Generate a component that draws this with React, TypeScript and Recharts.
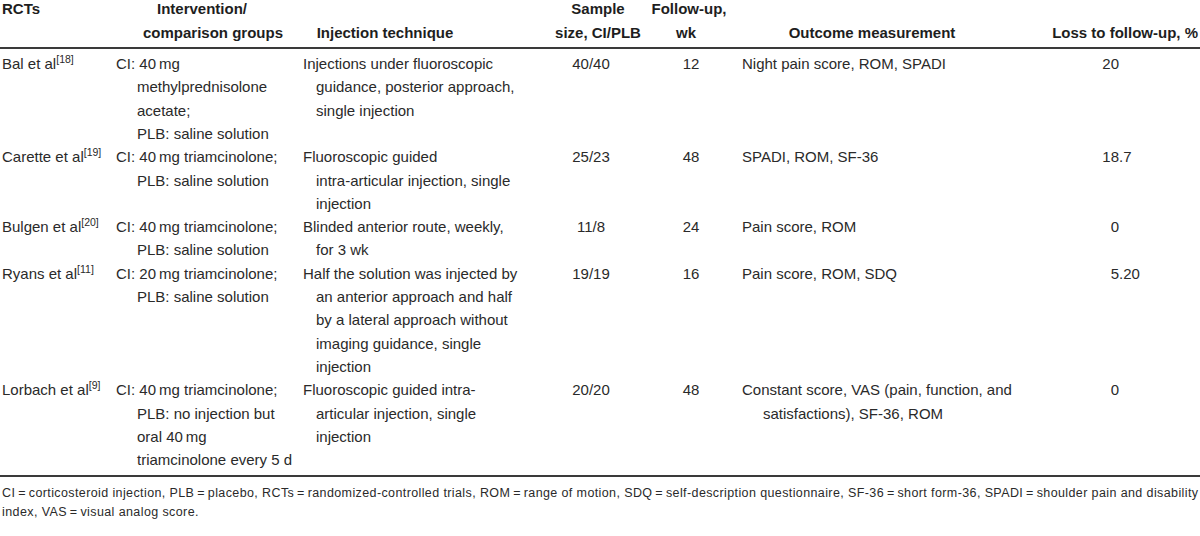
import React from 'react';
import { Surface, Layer, Text } from 'recharts';

const studies = ['Bal et al', 'Carette et al', 'Bulgen et al', 'Ryans et al', 'Lorbach et al'];
const refs = ['18', '19', '20', '11', '9'];
const interventions = [
  ['CI: 40\u2009mg', 'methylprednisolone', 'acetate;', 'PLB: saline solution'],
  ['CI: 40\u2009mg triamcinolone;', 'PLB: saline solution'],
  ['CI: 40\u2009mg triamcinolone;', 'PLB: saline solution'],
  ['CI: 20\u2009mg triamcinolone;', 'PLB: saline solution'],
  ['CI: 40\u2009mg triamcinolone;', 'PLB: no injection but', 'oral 40\u2009mg', 'triamcinolone every 5 d'],
];
const techniques = [
  ['Injections under fluoroscopic', 'guidance, posterior approach,', 'single injection'],
  ['Fluoroscopic guided', 'intra-articular injection, single', 'injection'],
  ['Blinded anterior route, weekly,', 'for 3 wk'],
  ['Half the solution was injected by', 'an anterior approach and half', 'by a lateral approach without', 'imaging guidance, single', 'injection'],
  ['Fluoroscopic guided intra-', 'articular injection, single', 'injection'],
];
const sampleSizes = ['40/40', '25/23', '11/8', '19/19', '20/20'];
const followUps = ['12', '48', '24', '16', '48'];
const outcomes = [
  ['Night pain score, ROM, SPADI'],
  ['SPADI, ROM, SF-36'],
  ['Pain score, ROM'],
  ['Pain score, ROM, SDQ'],
  ['Constant score, VAS (pain, function, and', 'satisfactions), SF-36, ROM'],
];
const losses = ['20', '18.7', '0', '5.20', '0'];
const footnote = [
  'CI\u2009=\u2009corticosteroid injection, PLB\u2009=\u2009placebo, RCTs\u2009=\u2009randomized-controlled trials, ROM\u2009=\u2009range of motion, SDQ\u2009=\u2009self-description questionnaire, SF-36\u2009=\u2009short form-36, SPADI\u2009=\u2009shoulder pain and disability',
  'index, VAS\u2009=\u2009visual analog score.',
];

const W = 1200;
const H = 536;
const FONT = "'Liberation Sans', Arial, sans-serif";
const INK = '#2a2a2a';
const body = { fontFamily: FONT, fontSize: 15, fill: INK } as React.CSSProperties;
const head = { fontFamily: FONT, fontSize: 15, fontWeight: 700, fill: '#1e1e1e' } as React.CSSProperties;
const note = { fontFamily: FONT, fontSize: 12.5, fill: INK } as React.CSSProperties;

const FIRST = 69;
const PITCH = 23.3;

const App = () => {
  // line offset of each row = the tallest cell of the rows above it
  const starts: number[] = [];
  let acc = 0;
  studies.forEach((_, i) => {
    starts.push(acc);
    acc += Math.max(interventions[i].length, techniques[i].length, outcomes[i].length);
  });
  const y = (row: number, line = 0) => FIRST + (starts[row] + line) * PITCH;

  return (
    <div style={{ position: 'absolute', left: 0, top: 0, width: W, height: H, background: '#fff' }}>
      <Surface width={W} height={H}>
        <Layer className="header">
          <Text x={2} y={14} style={head}>RCTs</Text>
          <Text x={202} y={14} textAnchor="middle" style={head}>Intervention/</Text>
          <Text x={213} y={38} textAnchor="middle" style={head}>comparison groups</Text>
          <Text x={385} y={38} textAnchor="middle" style={head}>Injection technique</Text>
          <Text x={598} y={14} textAnchor="middle" style={head}>Sample</Text>
          <Text x={598} y={38} textAnchor="middle" style={head}>size, CI/PLB</Text>
          <Text x={689} y={14} textAnchor="middle" style={head}>Follow-up,</Text>
          <Text x={686} y={38} textAnchor="middle" style={head}>wk</Text>
          <Text x={872} y={38} textAnchor="middle" style={head}>Outcome measurement</Text>
          <Text x={1198} y={38} textAnchor="end" style={head}>Loss to follow-up, %</Text>
          <rect x={0} y={47} width={W} height={2} fill="#3a3a3a" />
        </Layer>

        <Layer className="rows">
          {studies.map((name, i) => (
            <g key={name}>
              <text x={2} y={y(i)} style={body}>
                {name}
                <tspan dy={-6} fontSize={10.5}>[{refs[i]}]</tspan>
              </text>
              {interventions[i].map((t, k) => (
                <Text key={'iv' + k} x={k === 0 ? 116 : 137} y={y(i, k)} style={body}>{t}</Text>
              ))}
              {techniques[i].map((t, k) => (
                <Text key={'tq' + k} x={k === 0 ? 303 : 316} y={y(i, k)} style={body}>{t}</Text>
              ))}
              <Text x={591} y={y(i)} textAnchor="middle" style={body}>{sampleSizes[i]}</Text>
              <Text x={691} y={y(i)} textAnchor="middle" style={body}>{followUps[i]}</Text>
              {outcomes[i].map((t, k) => (
                <Text key={'oc' + k} x={k === 0 ? 742 : 763} y={y(i, k)} style={body}>{t}</Text>
              ))}
              {/* decimal-aligned loss column */}
              <text x={1119} y={y(i)} textAnchor="end" style={body}>{losses[i].split('.')[0]}</text>
              {losses[i].includes('.') && (
                <text x={1119} y={y(i)} textAnchor="start" style={body}>{'.' + losses[i].split('.')[1]}</text>
              )}
            </g>
          ))}
          <rect x={0} y={475} width={W} height={2} fill="#3a3a3a" />
        </Layer>

        <Layer className="footnote">
          <text x={2} y={497} textLength={1196} lengthAdjust="spacing" style={note}>
            {footnote[0]}
          </text>
          <text x={2} y={516} style={{ ...note, letterSpacing: 0.4 }}>{footnote[1]}</text>
        </Layer>
      </Surface>
    </div>
  );
};

export default App;
